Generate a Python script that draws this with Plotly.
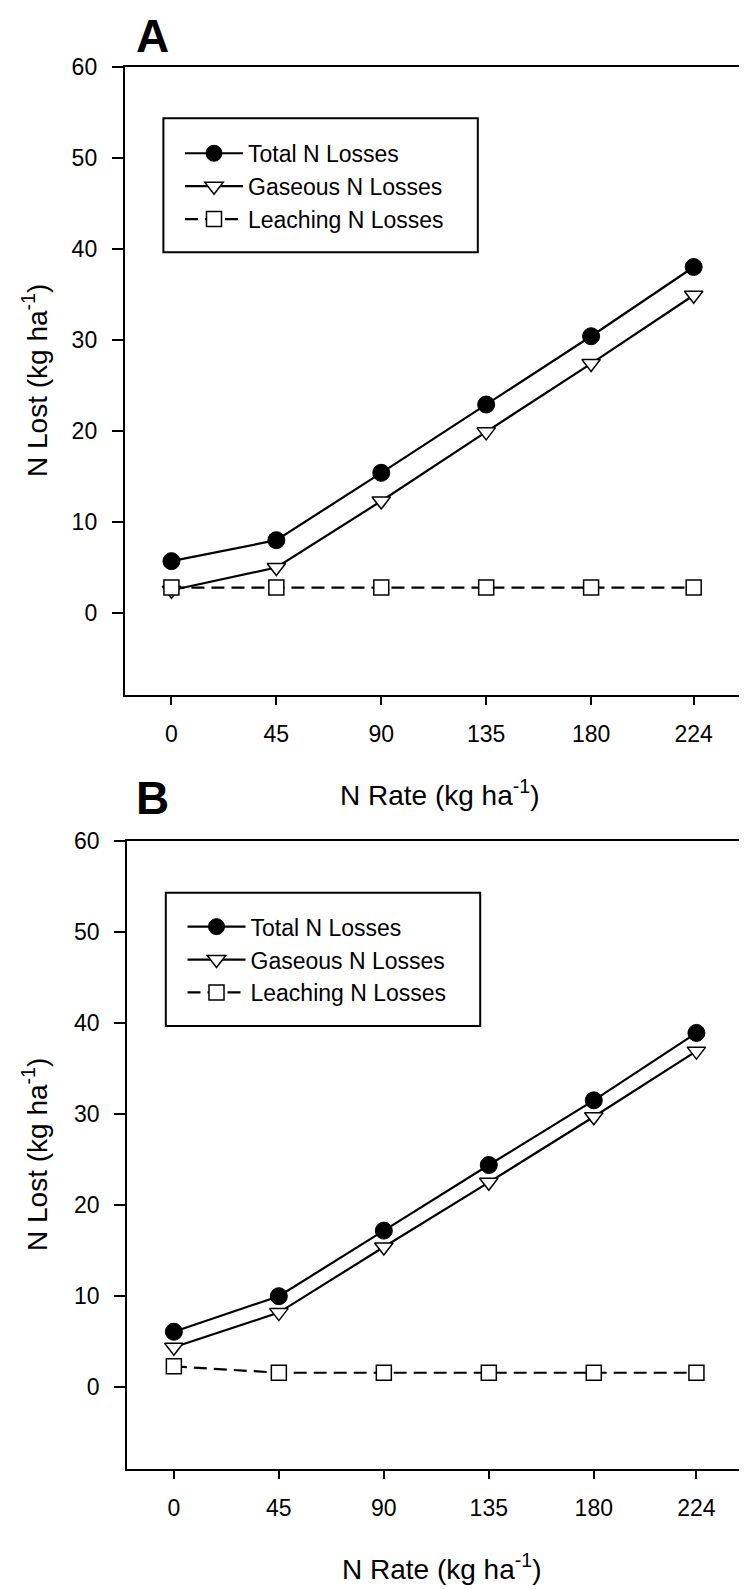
import plotly.graph_objects as go

# ---- data ----
n_rate = [0, 45, 90, 135, 180, 224]
tick_labels = ["0", "45", "90", "135", "180", "224"]
y_ticks = [0, 10, 20, 30, 40, 50, 60]

a_total = [5.7, 8.0, 15.4, 22.9, 30.4, 38.0]
a_gaseous = [2.5, 5.0, 12.3, 19.9, 27.4, 34.9]
a_leaching = [2.8, 2.8, 2.8, 2.8, 2.8, 2.8]

b_total = [6.1, 10.0, 17.2, 24.4, 31.5, 38.9]
b_gaseous = [4.4, 8.2, 15.4, 22.5, 29.7, 36.9]
b_leaching = [2.3, 1.6, 1.6, 1.6, 1.6, 1.6]

series_names = ["Total N Losses", "Gaseous N Losses", "Leaching N Losses"]

W, H = 747, 1589
OFF = 8  # page body margin
FONT = "Liberation Sans, Arial, sans-serif"


def px(v):
    return (v - OFF) / W


def py(v):
    return 1 - (v - OFF) / H


fig = go.Figure()

styles = [
    dict(mode="lines+markers", line=dict(color="black", width=2.2),
         marker=dict(symbol="circle", size=17, color="black",
                     line=dict(color="black", width=1))),
    dict(mode="lines+markers", line=dict(color="black", width=2.2),
         marker=dict(symbol="triangle-down", size=16, color="white",
                     line=dict(color="black", width=1.5))),
    dict(mode="lines+markers", line=dict(color="black", width=2.2, dash="13px,7px"),
         marker=dict(symbol="square", size=15, color="white",
                     line=dict(color="black", width=1.5))),
]

for (vals, xa, ya, lg) in [
    ((a_total, a_gaseous, a_leaching), "x", "y", "legend"),
    ((b_total, b_gaseous, b_leaching), "x2", "y2", "legend2"),
]:
    for name, v, st in zip(series_names, vals, styles):
        fig.add_trace(go.Scatter(x=n_rate, y=v, name=name, xaxis=xa, yaxis=ya,
                                 legend=lg, **st))

axis_common = dict(showgrid=False, zeroline=False, showline=True,
                   linecolor="black", linewidth=2, ticks="outside",
                   tickcolor="black", tickwidth=1.5,
                   tickfont=dict(family=FONT, size=23, color="black"))

fig.update_layout(
    width=W, height=H,
    margin=dict(l=0, r=0, t=0, b=0, autoexpand=False),
    paper_bgcolor="white", plot_bgcolor="white",
    showlegend=True,
    xaxis=dict(domain=[px(124.8), 1], range=[-20, 250.3], tickvals=n_rate,
               ticktext=tick_labels, ticklen=8, mirror=True, anchor="y",
               ticklabelstandoff=9, **axis_common),
    yaxis=dict(domain=[py(695), py(66.7)], range=[-9, 60], tickvals=y_ticks,
               ticklen=11, anchor="x", ticklabelstandoff=10, **axis_common),
    xaxis2=dict(domain=[px(127.2), 1], range=[-20, 249.1], tickvals=n_rate,
                ticktext=tick_labels, ticklen=8, mirror=True, anchor="y2",
                ticklabelstandoff=9, **axis_common),
    yaxis2=dict(domain=[py(1469.3), py(840.7)], range=[-9, 60], tickvals=y_ticks,
                ticklen=11, anchor="x2", ticklabelstandoff=10, **axis_common),
    legend=dict(x=px(180), y=py(131.8), xanchor="left", yanchor="top",
                bgcolor="rgba(0,0,0,0)", borderwidth=0, itemwidth=58,
                font=dict(family=FONT, size=23, color="black")),
    legend2=dict(x=px(182.5), y=py(905.2), xanchor="left", yanchor="top",
                 bgcolor="rgba(0,0,0,0)", borderwidth=0, itemwidth=58,
                 font=dict(family=FONT, size=23, color="black")),
)

# legend frames
for (x0, x1, y0, y1) in [(163.4, 477.8, 118.3, 252.3), (165.8, 480.2, 892.7, 1026.0)]:
    fig.add_shape(type="rect", xref="paper", yref="paper",
                  x0=px(x0), x1=px(x1), y0=py(y1), y1=py(y0),
                  line=dict(color="black", width=2), fillcolor="rgba(0,0,0,0)")

ann = []
ann.append(dict(text="<b>A</b>", x=px(152), y=1.0, xref="paper",
                yref="paper", showarrow=False, xanchor="center",
                yanchor="top", font=dict(family=FONT, size=46, color="black")))
ann.append(dict(text="<b>B</b>", x=px(152), y=py(798), xref="paper",
                yref="paper", showarrow=False, xanchor="center",
                yanchor="middle", font=dict(family=FONT, size=46, color="black")))
for yc in [381, 1155]:
    ann.append(dict(text="N Lost (kg ha<sup>-1</sup>)", x=px(35), y=py(yc),
                    xref="paper", yref="paper", showarrow=False, textangle=-90,
                    xanchor="center", yanchor="middle",
                    font=dict(family=FONT, size=28, color="black")))
for xc, yc in [(439.5, 793), (442, 1567)]:
    ann.append(dict(text="N Rate (kg ha<sup>-1</sup>)", x=px(xc), y=py(yc),
                    xref="paper", yref="paper", showarrow=False,
                    xanchor="center", yanchor="middle",
                    font=dict(family=FONT, size=28, color="black")))
fig.update_layout(annotations=ann)

fig.write_html("out.html")
